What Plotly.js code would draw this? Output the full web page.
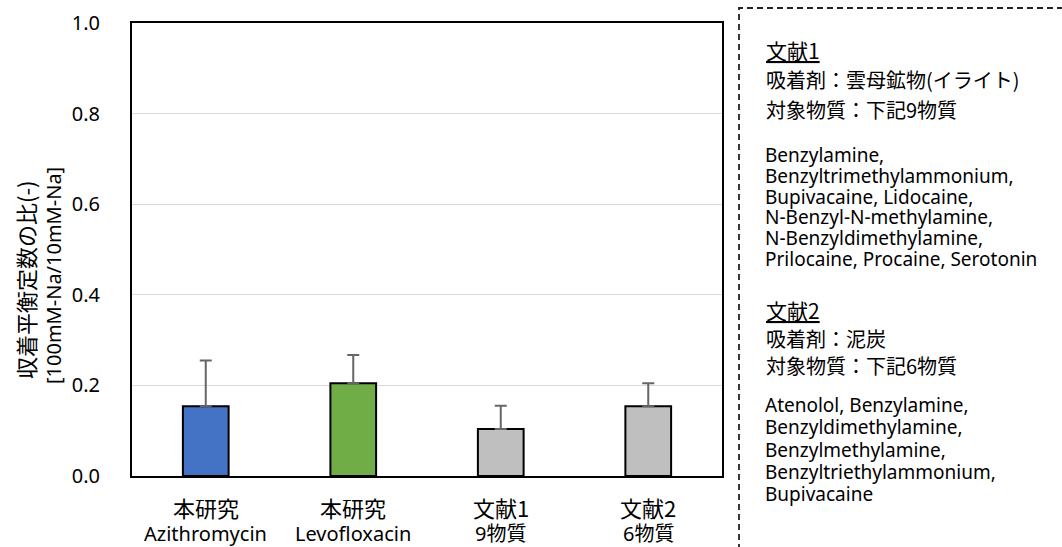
<!DOCTYPE html>
<html>
<head>
<meta charset="utf-8">
<script src="https://cdn.plot.ly/plotly-3.0.1.min.js"></script>
<style>html,body{margin:0;padding:0;background:#fff;}#chart{width:1062px;height:547px;}</style>
</head>
<body>
<div id="chart"></div>
<script>
// ---- data ----
const labelTop = ['本研究', '本研究', '文献1', '文献2'];
const labelBottom = ['Azithromycin', 'Levofloxacin', '9物質', '6物質'];
const ratioValues = [0.154, 0.205, 0.104, 0.154];
const ratioErrors = [0.101, 0.062, 0.051, 0.051];
const barColors = ['#4472C4', '#70AD47', '#BFBFBF', '#BFBFBF'];
const yTickVals = [0.0, 0.2, 0.4, 0.6, 0.8, 1.0];
const yTickText = ['0.0', '0.2', '0.4', '0.6', '0.8', '1.0'];
const yTitleLines = ['収着平衡定数の比(-)', '[100mM-Na/10mM-Na]'];
const ref1Heading = '文献1';
const ref1Lines = ['吸着剤：雲母鉱物(イライト)', '対象物質：下記9物質'];
const ref1Compounds = ['Benzylamine,', 'Benzyltrimethylammonium,', 'Bupivacaine, Lidocaine,',
  'N-Benzyl-N-methylamine,', 'N-Benzyldimethylamine,', 'Prilocaine, Procaine, Serotonin'];
const ref2Heading = '文献2';
const ref2Lines = ['吸着剤：泥炭', '対象物質：下記6物質'];
const ref2Compounds = ['Atenolol, Benzylamine,', 'Benzyldimethylamine,', 'Benzylmethylamine,',
  'Benzyltriethylammonium,', 'Bupivacaine'];

// ---- layout geometry (pixels) ----
const W = 1062, H = 547;
const L = 132, R = 722, T = 23, B = 476;
const px2x = p => (p - L) / (R - L);
const py2y = p => (B - p) / (B - T);
const FONT = 'Noto Sans, Noto Sans CJK JP, sans-serif';
const CJK = 'Noto Sans CJK JP, Noto Sans, sans-serif';

const xIdx = labelTop.map((_, i) => i);

const trace = {
  type: 'bar',
  x: xIdx,
  y: ratioValues,
  width: 0.31,
  marker: { color: barColors, line: { color: '#000000', width: 2 } },
  error_y: { type: 'data', array: ratioErrors, arrayminus: ratioErrors.map(() => 0),
             symmetric: false, color: '#666666', thickness: 2, width: 6 },
  hoverinfo: 'skip'
};

const annotations = [];
// x tick labels (two lines)
xIdx.forEach(i => {
  annotations.push({ x: i, xref: 'x', y: py2y(507), yref: 'paper', text: labelTop[i],
    showarrow: false, xanchor: 'center', yanchor: 'middle', font: { family: CJK, size: 22, color: '#000' } });
  annotations.push({ x: i, xref: 'x', y: py2y(533), yref: 'paper', text: labelBottom[i],
    showarrow: false, xanchor: 'center', yanchor: 'middle', font: { family: FONT, size: 20, color: '#000' } });
});
// y title (two rotated lines)
annotations.push({ x: px2x(25), xref: 'paper', y: py2y(280), yref: 'paper', text: yTitleLines[0],
  textangle: -90, showarrow: false, xanchor: 'center', yanchor: 'middle', font: { family: CJK, size: 22, color: '#000' } });
annotations.push({ x: px2x(53), xref: 'paper', y: py2y(276), yref: 'paper', text: yTitleLines[1],
  textangle: -90, showarrow: false, xanchor: 'center', yanchor: 'middle', font: { family: FONT, size: 20, color: '#000' } });

// right panel text
function addPanel(heading, lines, compounds, yHead, yLines, yCompTop, baseSize) {
  const xl = px2x(764);
  annotations.push({ x: xl, xref: 'paper', y: py2y(yHead), yref: 'paper', text: '<u>' + heading + '</u>',
    showarrow: false, xanchor: 'left', yanchor: 'middle', font: { family: CJK, size: 21, color: '#000' } });
  lines.forEach((t, k) => annotations.push({ x: xl, xref: 'paper', y: py2y(yLines[k]), yref: 'paper', text: t,
    showarrow: false, xanchor: 'left', yanchor: 'middle', font: { family: CJK, size: 20, color: '#000' } }));
  // compound list as one block; base font size sets the (tight) line spacing, span sets glyph size
  const block = compounds.map(t => '<span style="font-size:19px">' + t + '</span>').join('<br>');
  annotations.push({ x: xl, xref: 'paper', y: py2y(yCompTop), yref: 'paper', text: block, align: 'left',
    showarrow: false, xanchor: 'left', yanchor: 'top', borderpad: 0,
    font: { family: FONT, size: baseSize, color: '#000' } });
}
addPanel(ref1Heading, ref1Lines, ref1Compounds, 50, [80, 110], 141, 16);
addPanel(ref2Heading, ref2Lines, ref2Compounds, 310, [338, 365], 391, 17.2);

const layout = {
  width: W, height: H,
  margin: { l: L, r: W - R, t: T, b: H - B, pad: 0 },
  paper_bgcolor: '#ffffff', plot_bgcolor: '#ffffff',
  showlegend: false,
  bargap: 0,
  xaxis: { range: [-0.5, 3.5], showticklabels: false, ticks: '', showgrid: false, zeroline: false,
           showline: true, mirror: true, linecolor: '#000', linewidth: 2, fixedrange: true },
  yaxis: { range: [0, 1], tickvals: yTickVals, ticktext: yTickText, ticks: '', showgrid: true,
           gridcolor: '#D9D9D9', gridwidth: 1.3, zeroline: false, showline: true, mirror: true,
           linecolor: '#000', linewidth: 2, ticklabelstandoff: 26,
           tickfont: { family: FONT, size: 20, color: '#000' }, fixedrange: true },
  annotations: annotations,
  shapes: [{ type: 'rect', xref: 'paper', yref: 'paper', x0: px2x(739), x1: px2x(1100), y0: py2y(600), y1: py2y(8),
             line: { color: '#222222', width: 1.8, dash: '6px,4px' }, fillcolor: 'rgba(0,0,0,0)' }]
};

Plotly.newPlot('chart', [trace], layout, { staticPlot: true, displayModeBar: false });
</script>
</body>
</html>
